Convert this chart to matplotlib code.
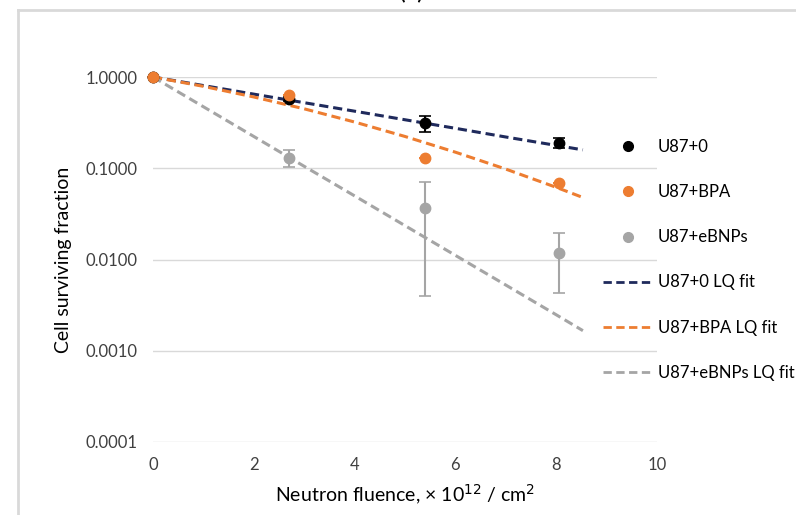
import numpy as np
import matplotlib.pyplot as plt
from matplotlib.lines import Line2D

plt.rcParams['font.family'] = ['Lato', 'DejaVu Sans']

# measured survival (points with error bars)
fluence = [0, 2.7, 5.4, 8.05]
sf_u87 = [1.0, 0.58, 0.31, 0.19]
err_u87 = [0.0, 0.03, 0.06, 0.025]
sf_bpa = [1.0, 0.635, 0.13, 0.069]
err_bpa = [0.0, 0.0, 0.0, 0.0]
sf_ebnp = [1.0, 0.13, 0.037, 0.0118]
err_ebnp = [0.0, 0.027, 0.033, 0.0075]

# LQ fit curves
fit_x = [0, 1, 2, 3, 4, 5, 6, 7, 8, 8.53]
fit_u87 = [1.0, 0.806, 0.649, 0.523, 0.422, 0.340, 0.274, 0.220, 0.178, 0.159]
fit_bpa = [1.0, 0.790, 0.604, 0.448, 0.321, 0.223, 0.150, 0.0979, 0.0618, 0.0478]
fit_ebnp = [1.0, 0.472, 0.223, 0.105, 0.0498, 0.0235, 0.0111, 0.00525, 0.00248, 0.00166]

yticks = [1e-4, 1e-3, 1e-2, 1e-1, 1.0]
ytick_labels = ['0.0001', '0.0010', '0.0100', '0.1000', '1.0000']

c_navy = '#1f2a5c'
c_orange = '#ed7d31'
c_gray = '#a5a5a5'

W, H = 796, 515
fig = plt.figure(figsize=(W / 100, H / 100), dpi=100)
ax = fig.add_axes([153 / W, 1 - 442 / H, (657 - 153) / W, (442 - 77) / H])

ax.set_yscale('log')
ax.set_ylim(1e-4, 1.0)
ax.set_xlim(0, 10)

# fits
ax.plot(fit_x, fit_u87, '--', color=c_navy, lw=2.2, dashes=(3, 1.6), clip_on=False, zorder=2)
ax.plot(fit_x, fit_bpa, '--', color=c_orange, lw=2.2, dashes=(3, 1.6), clip_on=False, zorder=2)
ax.plot(fit_x, fit_ebnp, '--', color=c_gray, lw=2.2, dashes=(3, 1.6), clip_on=False, zorder=2)

# points
for y, e, c in [(sf_ebnp, err_ebnp, c_gray), (sf_u87, err_u87, 'black'),
                (sf_bpa, err_bpa, c_orange)]:
    ax.errorbar(fluence, y, yerr=e, fmt='o', color=c, ms=7.5, capsize=4,
                elinewidth=1.5, capthick=1.2, clip_on=False, zorder=3)

ax.set_yticks(yticks)
ax.set_yticklabels(ytick_labels)
ax.minorticks_off()
ax.set_xticks(range(0, 11, 2))
ax.tick_params(length=0, labelsize=12, colors='#404040', pad=11)
ax.grid(axis='y', color='#d9d9d9', lw=1)
ax.set_axisbelow(True)
for s in ax.spines.values():
    s.set_visible(False)

ax.set_xlabel('Neutron fluence, × 10$^{12}$ / cm$^{2}$', fontsize=14, labelpad=7)
ax.set_ylabel('Cell surviving fraction', fontsize=14, labelpad=10)

handles = [
    Line2D([], [], ls='none', marker='o', color='black', ms=7),
    Line2D([], [], ls='none', marker='o', color=c_orange, ms=7),
    Line2D([], [], ls='none', marker='o', color=c_gray, ms=7),
    Line2D([], [], ls='--', color=c_navy, lw=2, dashes=(3, 1.6)),
    Line2D([], [], ls='--', color=c_orange, lw=2, dashes=(3, 1.6)),
    Line2D([], [], ls='--', color=c_gray, lw=2, dashes=(3, 1.6)),
]
labels = ['U87+0', 'U87+BPA', 'U87+eBNPs', 'U87+0 LQ fit', 'U87+BPA LQ fit',
          'U87+eBNPs LQ fit']
fig.legend(handles, labels, loc='upper left', bbox_to_anchor=(603 / W, 1 - 139 / H),
           frameon=False, fontsize=12, borderpad=0, borderaxespad=0,
           handlelength=3.0, handletextpad=0.3, labelspacing=1.75)

# chart frame and clipped panel title
fig.add_artist(Line2D([18 / W, 18 / W], [0, 1 - 10 / H], color='#d9d9d9', lw=2))
fig.add_artist(Line2D([18 / W, 1], [1 - 10 / H, 1 - 10 / H], color='#d9d9d9', lw=2))
fig.text(412 / W, 1 + 1 / H, '(a)', ha='center', va='baseline', fontsize=18)

plt.savefig('out.png', dpi=100)
